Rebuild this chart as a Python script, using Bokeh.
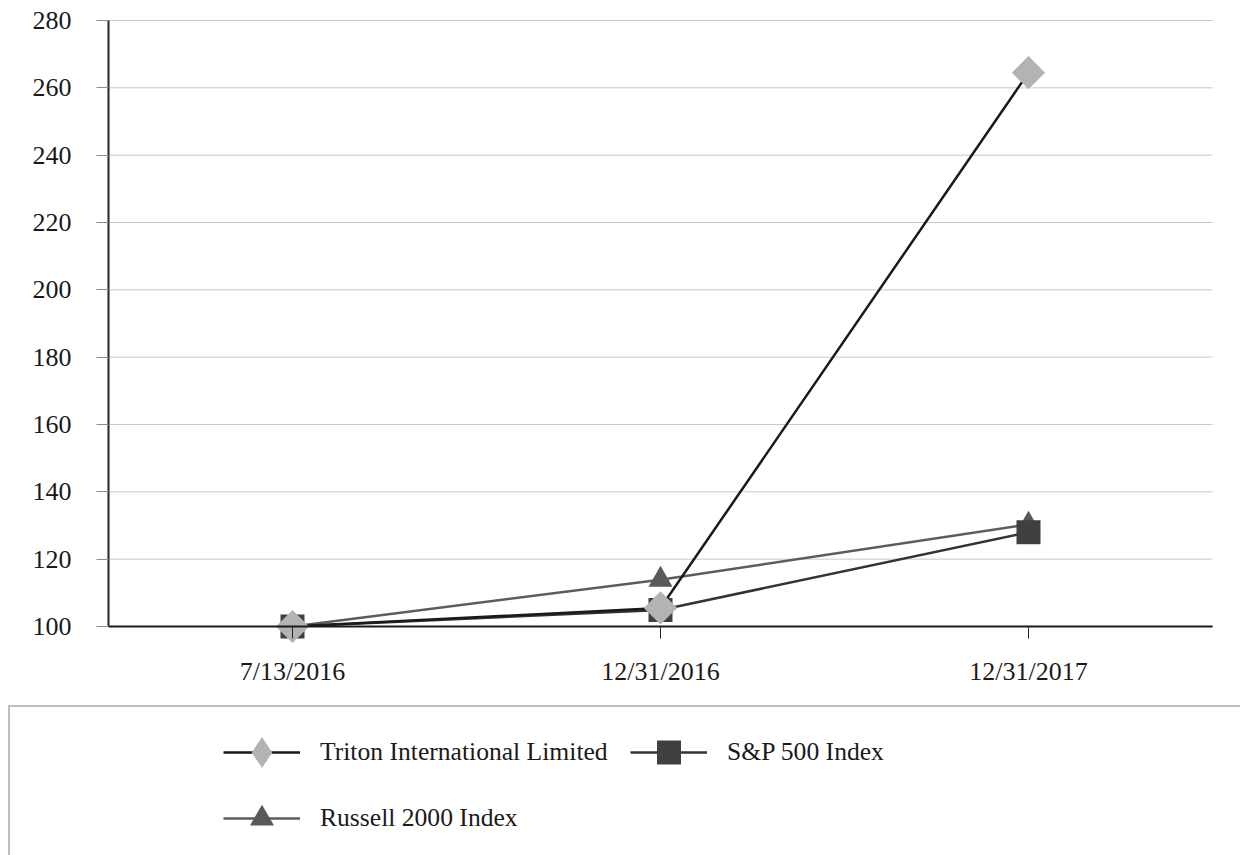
import math
from bokeh.plotting import figure
from bokeh.models import (ColumnDataSource, Range1d, FixedTicker, Legend, LegendItem)
from bokeh.embed import file_html
from bokeh.resources import INLINE

# ---------------- data ----------------
dates = ["7/13/2016", "12/31/2016", "12/31/2017"]
triton = [100.0, 105.5, 264.5]
sp500 = [100.0, 104.9, 128.0]
russell = [100.0, 113.9, 130.3]
y_ticks = [100, 120, 140, 160, 180, 200, 220, 240, 260, 280]
series_names = ["Triton International Limited", "S&P 500 Index", "Russell 2000 Index"]

FONT = "Liberation Serif"
FS = "26px"
LFS = "25.6px"

# ---------------- layout geometry (pixels) ----------------
W, H = 1240, 855
PL, PR, PT, PB = 108, 1212, 20, 626          # plot area inside the canvas

xpos = list(range(len(dates)))                # category index
x_lo, x_hi = -0.5, len(dates) - 0.5           # category band edges
xu = (PR - PL) / (x_hi - x_lo)
y_lo, y_hi = y_ticks[0], y_ticks[-1]
yu = (PB - PT) / (y_hi - y_lo)

src = ColumnDataSource(dict(x=xpos, date=dates, triton=triton, sp500=sp500, russell=russell))
grid_src = ColumnDataSource(dict(y=y_ticks, x0=[x_lo] * len(y_ticks), x1=[x_hi] * len(y_ticks)))

p = figure(width=W, height=H,
           x_range=Range1d(x_lo - PL / xu, x_hi + (W - PR) / xu),
           y_range=Range1d(y_lo - (H - PB) / yu, y_hi + PT / yu),
           output_backend="svg", toolbar_location=None,
           min_border_left=0, min_border_right=0, min_border_top=0, min_border_bottom=0)
p.outline_line_color = None
p.grid.visible = False

# horizontal gridlines across the plot area only
p.segment(x0="x0", x1="x1", y0="y", y1="y", source=grid_src,
          line_color="#c8c8c8", line_width=1, level="underlay")

# axes fixed at the plot-area edges
p.yaxis.fixed_location = x_lo
p.yaxis.bounds = (y_lo, y_hi)
p.yaxis.ticker = FixedTicker(ticks=y_ticks)
p.yaxis.axis_line_color = "#262626"
p.yaxis.axis_line_width = 2
p.yaxis.major_tick_line_color = "#8c8c8c"
p.yaxis.major_tick_out = 12
p.yaxis.major_tick_in = 0
p.yaxis.minor_tick_line_color = None
p.yaxis.major_label_standoff = 25

p.xaxis.fixed_location = y_lo
p.xaxis.bounds = (x_lo, x_hi)
p.xaxis.ticker = FixedTicker(ticks=xpos)
p.xaxis.major_label_overrides = {i: d for i, d in zip(xpos, dates)}
p.xaxis.axis_line_color = "#1a1a1a"
p.xaxis.axis_line_width = 2
p.xaxis.major_tick_line_color = "#262626"
p.xaxis.major_tick_out = 12
p.xaxis.major_tick_in = 0
p.xaxis.minor_tick_line_color = None
p.xaxis.major_label_standoff = 18

for ax in (p.xaxis, p.yaxis):
    ax.major_label_text_font = FONT
    ax.major_label_text_font_size = FS
    ax.major_label_text_color = "#1a1a1a"

styles = {
    "russell": dict(line="#5c5c5c", marker="triangle", fill="#595959", size=24, angle=0.0),
    "sp500": dict(line="#333333", marker="square", fill="#404040", size=24, angle=0.0),
    "triton": dict(line="#1a1a1a", marker="square", fill="#b3b3b3", size=23.5, angle=math.pi / 4),
}

lines, marks = {}, {}
for key in ["russell", "sp500", "triton"]:
    s = styles[key]
    lines[key] = p.line("x", key, source=src, line_color=s["line"], line_width=2.5)
    marks[key] = p.scatter("x", key, source=src, marker=s["marker"], size=s["size"],
                           angle=s["angle"], fill_color=s["fill"], line_color=None)

# legend-only helpers (hidden in the plot area)
triton_key_mark = p.scatter("x", "triton", source=src, marker="diamond", size=30,
                            fill_color=styles["triton"]["fill"], line_color=None, visible=False)
box_dummy = p.scatter("x", "triton", source=src, marker="circle", size=1,
                      fill_alpha=0, line_alpha=0, visible=False)

# ---------------- legend frame (box) ----------------
box_legend = Legend(items=[LegendItem(label=" ", renderers=[box_dummy])],
                    location=(8, -154), glyph_width=1400, glyph_height=300,
                    label_standoff=0, label_width=0, padding=0, margin=0, spacing=0,
                    border_line_color="#7f7f7f", border_line_width=2,
                    background_fill_alpha=0, click_policy="none")
p.add_layout(box_legend)

# ---------------- legend entries ----------------
common = dict(padding=0, margin=0, spacing=0, border_line_color=None,
              background_fill_alpha=0, label_text_font=FONT, label_text_font_size=LFS,
              label_text_color="#1a1a1a", label_standoff=20, glyph_width=77,
              click_policy="none")

leg_triton = Legend(items=[LegendItem(label=series_names[0],
                                      renderers=[lines["triton"], triton_key_mark])],
                    location=(223, 64), glyph_height=78, **common)
leg_sp = Legend(items=[LegendItem(label=series_names[1],
                                  renderers=[lines["sp500"], marks["sp500"]])],
                location=(630, 73), glyph_height=60, **common)
leg_russell = Legend(items=[LegendItem(label=series_names[2],
                                       renderers=[lines["russell"], marks["russell"]])],
                     location=(223, 7), glyph_height=60, **common)
for lg in (leg_triton, leg_sp, leg_russell):
    p.add_layout(lg)

open("out.html", "w").write(file_html(p, INLINE))
